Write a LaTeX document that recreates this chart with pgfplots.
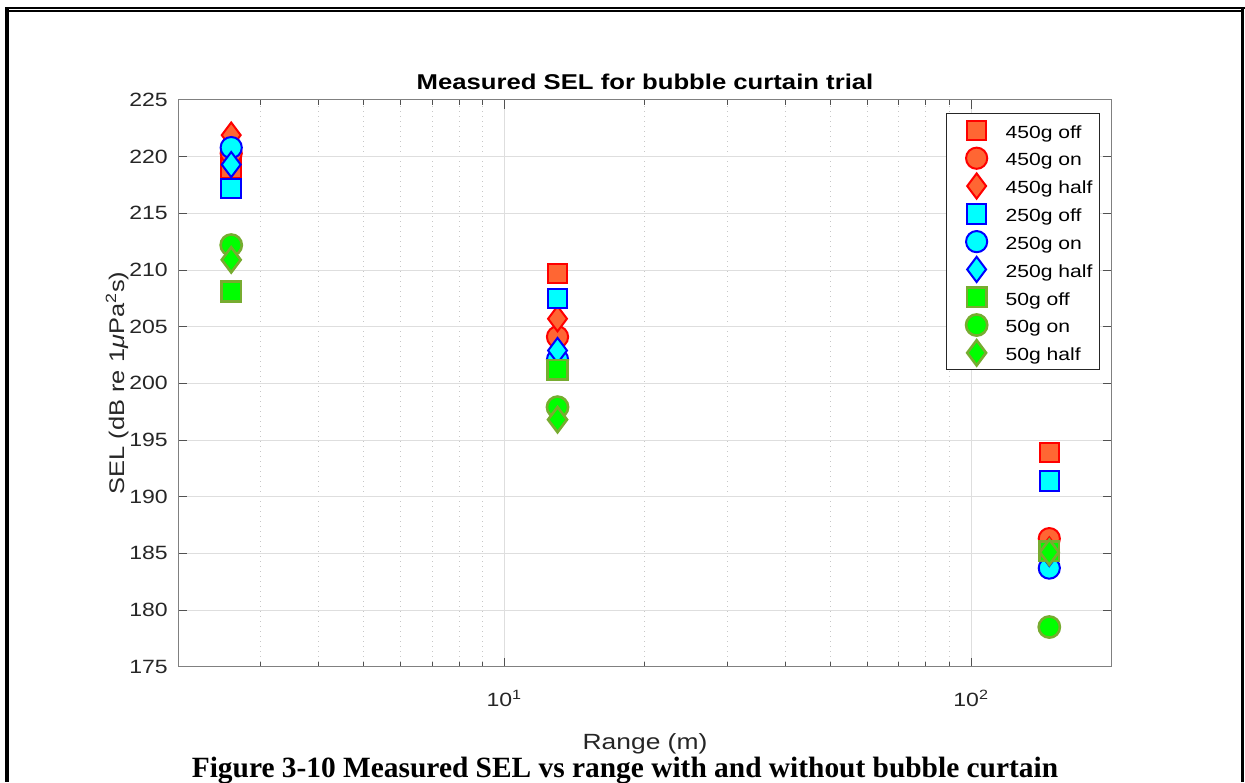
\documentclass[border=0pt]{standalone}
\usepackage{fontspec}
\setmainfont{Liberation Sans}[FakeStretch=1.2]
\newfontfamily\capfont{Liberation Serif}
\usepackage{pgfplots}
\pgfplotsset{compat=1.18}
\definecolor{redface}{RGB}{255,102,51}
\definecolor{cyanface}{RGB}{0,255,255}
\definecolor{greenface}{RGB}{0,255,0}
\definecolor{greenedge}{RGB}{119,172,48}
\definecolor{axgray}{RGB}{38,38,38}
\definecolor{boxgray}{RGB}{128,128,128}
\begin{document}
\begin{tikzpicture}
\useasboundingbox (0,0) rectangle (622.5pt,391pt);
\begin{scope}[x=0.5pt,y=-0.5pt,yshift=391pt]
 \fill (5,6.7) rectangle (1245,9);
 \fill (9,10.3) rectangle (1241,12.3);
 \fill (5,6.7) rectangle (9.3,782);
 \fill (1241,6.7) rectangle (1244.3,782);
 \node[font=\bfseries\fontsize{10.7}{13}\selectfont, anchor=base, inner sep=0pt] at (645,90) {Measured SEL for bubble curtain trial};
 \node[font=\fontsize{11}{13}\selectfont, anchor=base, inner sep=0pt, text=axgray] at (645,749.3) {Range (m)};
 \node[font=\fontsize{10.6}{13}\selectfont, anchor=base, rotate=90, inner sep=0pt, text=axgray] at (124,383) {SEL (dB re 1\textit{μ}Pa\textsuperscript{2}s)};
 \node[font=\capfont\bfseries\fontsize{14.7}{17}\selectfont, anchor=base, inner sep=0pt] at (625,777.3) {Figure 3-10 Measured SEL vs range with and without bubble curtain};
\end{scope}
\begin{axis}[
 at={(89pt,57.65pt)}, anchor=south west,
 scale only axis, width=466.85pt, height=283.35pt,
 xmode=log, xmin=2, xmax=200, ymin=175, ymax=225,
 ytick={175,180,...,225},
 xtick={10,100}, xticklabels={10\textsuperscript{1},10\textsuperscript{2}},
 minor xtick={2,3,4,5,6,7,8,9,20,30,40,50,60,70,80,90,200},
 xmajorgrids, ymajorgrids, xminorgrids,
 major grid style={draw=black!13, line width=0.5pt},
 minor grid style={draw=black!22, line width=0.5pt, dotted},
 tick align=inside, major tick length=4.5pt, minor tick length=2.5pt,
 axis line style={draw=boxgray, line width=0.5pt},
 tick style={draw=axgray!80, line width=0.5pt},
 tick label style={font=\fontsize{9.6}{12}\selectfont, text=axgray},
 xticklabel style={anchor=base, yshift=-20pt},
 yticklabel style={xshift=-1.6pt},
 /pgf/number format/assume math mode=true,
 legend style={at={(0.9875,0.977)}, anchor=north east, draw=axgray, line width=0.5pt,
   font=\fontsize{8.8}{10}\selectfont, text=black,
   inner xsep=3.5pt, inner ysep=1.5pt, column sep=4.5pt, row sep=0pt,
   nodes={inner sep=0pt}},
 legend cell align=left,
 legend image code/.code={\path[draw=none,fill=none] (0pt,-5.45pt) rectangle (21.5pt,8.45pt);
   \draw[#1] plot coordinates {(11.5pt,1.5pt)};},
]
\addplot[only marks, mark=square*, draw=red, fill=redface, line width=1pt, mark size=4.9pt] coordinates {(2.6,219.0)(13,209.7)(147,193.9)};
\addlegendentry{450g off}
\addplot[only marks, mark=*, draw=red, fill=redface, line width=1pt, mark size=5.3pt] coordinates {(2.6,220.3)(13,204.1)(147,186.3)};
\addlegendentry{450g on}
\addplot[only marks, mark=diamond*, draw=red, fill=redface, line width=1pt, mark size=6.3pt] coordinates {(2.6,221.9)(13,205.7)(147,185.3)};
\addlegendentry{450g half}
\addplot[only marks, mark=square*, draw=blue, fill=cyanface, line width=1pt, mark size=4.9pt] coordinates {(2.6,217.2)(13,207.5)(147,191.4)};
\addlegendentry{250g off}
\addplot[only marks, mark=*, draw=blue, fill=cyanface, line width=1pt, mark size=5.3pt] coordinates {(2.6,220.8)(13,202.1)(147,183.7)};
\addlegendentry{250g on}
\addplot[only marks, mark=diamond*, draw=blue, fill=cyanface, line width=1pt, mark size=6.3pt] coordinates {(2.6,219.3)(13,202.9)(147,185.0)};
\addlegendentry{250g half}
\addplot[only marks, mark=square*, draw=greenedge, fill=greenface, line width=1.3pt, mark size=4.9pt] coordinates {(2.6,208.1)(13,201.2)(147,185.2)};
\addlegendentry{50g off}
\addplot[only marks, mark=*, draw=greenedge, fill=greenface, line width=1.3pt, mark size=5.3pt] coordinates {(2.6,212.2)(13,197.9)(147,178.5)};
\addlegendentry{50g on}
\addplot[only marks, mark=diamond*, draw=greenedge, fill=greenface, line width=1.3pt, mark size=6.3pt] coordinates {(2.6,210.9)(13,196.8)(147,185.1)};
\addlegendentry{50g half}
\end{axis}
\end{tikzpicture}
\end{document}
